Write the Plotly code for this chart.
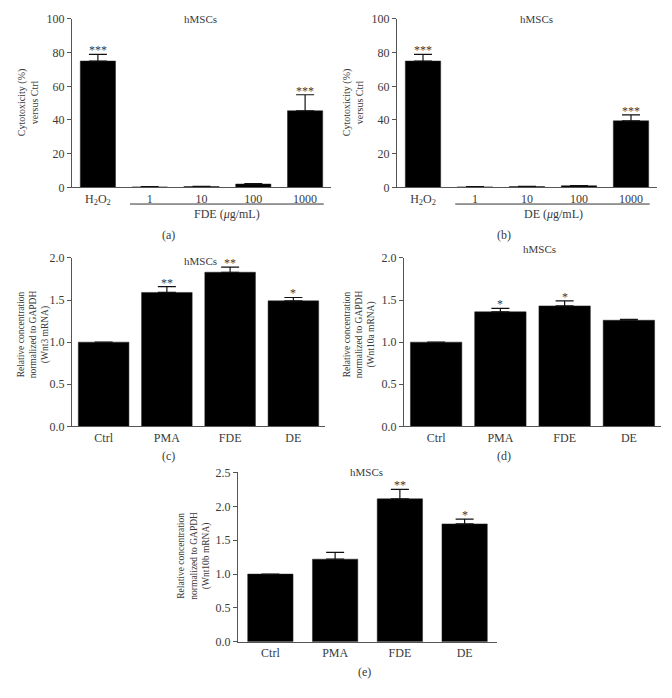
import plotly.graph_objects as go

# Page body has an 8px margin; figure sized so it fits inside the 672x698 window
OFF = 8
W, H = 672 - 2 * OFF, 698 - 2 * OFF

# ---------- data ----------
cyto_cats = ["H<sub>2</sub>O<sub>2</sub>", "1", "10", "100", "1000"]
fde_cyto = [75.0, 0.3, 0.5, 2.0, 45.5]
fde_cyto_err = [4.0, 0.1, 0.1, 0.3, 9.5]
fde_cyto_sig = ["***", "", "", "", "***"]
de_cyto = [75.0, 0.3, 0.5, 1.0, 39.5]
de_cyto_err = [4.0, 0.1, 0.1, 0.1, 3.5]
de_cyto_sig = ["***", "", "", "", "***"]

mrna_cats = ["Ctrl", "PMA", "FDE", "DE"]
wnt3 = [1.0, 1.59, 1.83, 1.49]
wnt3_err = [0.0, 0.07, 0.06, 0.04]
wnt3_sig = ["", "**", "**", "*"]
wnt10a = [1.0, 1.36, 1.43, 1.26]
wnt10a_err = [0.0, 0.04, 0.06, 0.01]
wnt10a_sig = ["", "*", "*", ""]
wnt10b = [1.0, 1.22, 2.11, 1.74]
wnt10b_err = [0.0, 0.10, 0.14, 0.07]
wnt10b_sig = ["", "", "**", "*"]

FONT = "Liberation Serif"
TXT = "#3a3a3a"
AX = "#555555"

def px(x):
    return (x - OFF) / W

def py(y):
    return 1 - (y - OFF) / H

fig = go.Figure()
annotations = []
shapes = []

panels = [
    dict(ax="", cats=cyto_cats, v=fde_cyto, e=fde_cyto_err, s=fde_cyto_sig,
         xd=(72, 331), yd=(12, 184), yr=[0, 100], dt=20, fmt="d",
         yt="Cytotoxicity (%)<br>versus Ctrl", ytp=(28, 97), ytf=10,
         grp="FDE (<i>μ</i>g/mL)", letter="(a)", lp=(168, 233), tp=(200, 12), bw=0.68),
    dict(ax="2", cats=cyto_cats, v=de_cyto, e=de_cyto_err, s=de_cyto_sig,
         xd=(397, 657), yd=(12, 184), yr=[0, 100], dt=20, fmt="d",
         yt="Cytotoxicity (%)<br>versus Ctrl", ytp=(353, 97), ytf=10,
         grp="DE (<i>μ</i>g/mL)", letter="(b)", lp=(504, 233), tp=(536, 12), bw=0.68),
    dict(ax="3", cats=mrna_cats, v=wnt3, e=wnt3_err, s=wnt3_sig,
         xd=(72, 325), yd=(256, 428), yr=[0, 2.0], dt=0.5, fmt=".1f",
         yt="Relative concentration<br>normalized to GAPDH<br>(Wnt3 mRNA)", ytp=(34, 334), ytf=9.5,
         grp=None, letter="(c)", lp=(168, 458), tp=(200, 259), bw=0.8),
    dict(ax="4", cats=mrna_cats, v=wnt10a, e=wnt10a_err, s=wnt10a_sig,
         xd=(404, 661), yd=(256, 428), yr=[0, 2.0], dt=0.5, fmt=".1f",
         yt="Relative concentration<br>normalized to GAPDH<br>(Wnt10a mRNA)", ytp=(360, 334), ytf=9.5,
         grp=None, letter="(d)", lp=(504, 458), tp=(539, 247), bw=0.8),
    dict(ax="5", cats=mrna_cats, v=wnt10b, e=wnt10b_err, s=wnt10b_sig,
         xd=(238, 497), yd=(475, 648), yr=[0, 2.5], dt=0.5, fmt=".1f",
         yt="Relative concentration<br>normalized to GAPDH<br>(Wnt10b mRNA)", ytp=(194, 560), ytf=9.5,
         grp=None, letter="(e)", lp=(364, 679), tp=(366, 475), bw=0.7),
]

for p in panels:
    a = p["ax"]
    xa, ya = "x" + a, "y" + a
    n = len(p["cats"])
    fig.add_trace(go.Bar(
        x=list(range(n)), y=p["v"], xaxis=xa, yaxis=ya, width=p["bw"],
        marker=dict(color="#000000", line=dict(color="#222222", width=0.5)),
        error_y=dict(type="data", symmetric=False, array=p["e"], arrayminus=[0] * n,
                     color="#111111", thickness=1.2, width=9),
        showlegend=False, hoverinfo="skip",
    ))
    xkey = "xaxis" + a
    ykey = "yaxis" + a
    fig.update_layout(**{
        xkey: dict(domain=[px(p["xd"][0]), px(p["xd"][1])], anchor=ya,
                   range=[-0.5, n - 0.5], tickmode="array", tickvals=list(range(n)),
                   ticktext=p["cats"], ticks="", showline=True, linecolor=AX, linewidth=1,
                   showgrid=False, zeroline=False, fixedrange=True,
                   tickfont=dict(family=FONT, size=12, color=TXT)),
        ykey: dict(domain=[py(p["yd"][1]), py(p["yd"][0])], anchor=xa,
                   range=p["yr"], dtick=p["dt"], tick0=0, tickformat=p["fmt"],
                   ticks="outside", ticklen=4, tickcolor=AX, showline=True, linecolor=AX,
                   linewidth=1, showgrid=False, zeroline=False, fixedrange=True,
                   tickfont=dict(family=FONT, size=12, color=TXT)),
    })
    for i, s in enumerate(p["s"]):
        if s:
            annotations.append(dict(x=i, y=p["v"][i] + p["e"][i], xref=xa, yref=ya,
                                    text=s, showarrow=False, yanchor="bottom", yshift=-5,
                                    font=dict(family=FONT, size=12, color=TXT)))
    annotations.append(dict(x=px(p["tp"][0]), y=py(p["tp"][1]), xref="paper", yref="paper",
                            text="hMSCs", showarrow=False, xanchor="center", yanchor="middle",
                            font=dict(family=FONT, size=11, color=TXT)))
    annotations.append(dict(x=px(p["lp"][0]), y=py(p["lp"][1]), xref="paper", yref="paper",
                            text=p["letter"], showarrow=False, xanchor="center", yanchor="middle",
                            font=dict(family=FONT, size=12, color=TXT)))
    annotations.append(dict(x=px(p["ytp"][0]), y=py(p["ytp"][1]), xref="paper", yref="paper",
                            text=p["yt"], showarrow=False, textangle=-90,
                            xanchor="center", yanchor="middle",
                            font=dict(family=FONT, size=p["ytf"], color=TXT)))
    if p["grp"]:
        shapes.append(dict(type="line", xref=xa, yref="paper", x0=0.62, x1=4.36,
                           y0=py(201), y1=py(201), line=dict(color="#333333", width=1)))
        annotations.append(dict(x=2.5, y=py(211), xref=xa, yref="paper", text=p["grp"],
                                showarrow=False, xanchor="center", yanchor="middle",
                                font=dict(family=FONT, size=12, color=TXT)))

fig.update_layout(
    width=W, height=H, margin=dict(l=0, r=0, t=0, b=0),
    paper_bgcolor="white", plot_bgcolor="white",
    annotations=annotations, shapes=shapes, bargap=0.2,
)

fig.write_html("out.html")
